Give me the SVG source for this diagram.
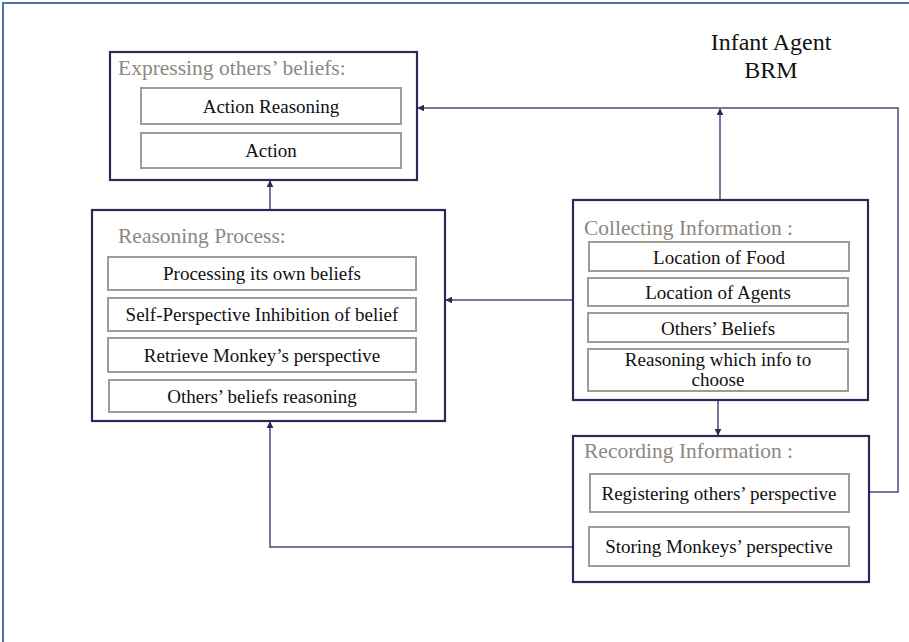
<svg xmlns="http://www.w3.org/2000/svg" width="909" height="642" viewBox="0 0 909 642">
<style>
.frame{fill:#fff;stroke:#4f72ad;stroke-width:2}
.box{fill:#fff;stroke:#2a2a5a;stroke-width:2.2}
.item{fill:#fff;stroke:#a09b96;stroke-width:2}
text{font-family:'Liberation Serif','Times New Roman','DejaVu Serif',serif}
.ttl{font-size:21.5px;fill:#8c8782}
.txt{font-size:19px;fill:#111;text-anchor:middle}
.big{font-size:24px;fill:#111;text-anchor:middle}
.con{fill:none;stroke:#4a4a7c;stroke-width:1.5}
</style>
<defs>
<marker id="ah" viewBox="0 0 10 10" refX="9" refY="5" markerWidth="7" markerHeight="7" orient="auto" markerUnits="userSpaceOnUse">
<path d="M0,0 L10,5 L0,10 z" fill="#2a2a5a"/>
</marker>
</defs>
<rect class="frame" x="3" y="3" width="912" height="650"/>
<g id="title">
<text class="big" x="771" y="50">Infant Agent</text>
<text class="big" x="771" y="78">BRM</text>
</g>
<g id="connectors">
<path class="con" d="M270,210 V181" marker-end="url(#ah)"/>
<path class="con" d="M573,300 H446" marker-end="url(#ah)"/>
<path class="con" d="M720,200 V109" marker-end="url(#ah)"/>
<path class="con" d="M849,492 H898 V108 H418" marker-end="url(#ah)"/>
<path class="con" d="M718,400 V435" marker-end="url(#ah)"/>
<path class="con" d="M589,547 H270 V422" marker-end="url(#ah)"/>
</g>
<g id="expressing">
<rect class="box" x="110" y="52" width="307" height="128"/>
<text class="ttl" x="118" y="75">Expressing others’ beliefs:</text>
<rect class="item" x="141" y="88" width="260" height="36"/>
<text class="txt" x="271" y="113">Action Reasoning</text>
<rect class="item" x="141" y="133" width="260" height="35"/>
<text class="txt" x="271" y="157">Action</text>
</g>
<g id="reasoning">
<rect class="box" x="92" y="210" width="353" height="211"/>
<text class="ttl" x="118" y="243">Reasoning Process:</text>
<rect class="item" x="108" y="257" width="308" height="33"/>
<text class="txt" x="262" y="280">Processing its own beliefs</text>
<rect class="item" x="108" y="298" width="308" height="33"/>
<text class="txt" x="262" y="321">Self-Perspective Inhibition of belief</text>
<rect class="item" x="108" y="338" width="308" height="34"/>
<text class="txt" x="262" y="362">Retrieve Monkey’s perspective</text>
<rect class="item" x="109" y="380" width="307" height="32"/>
<text class="txt" x="262" y="403">Others’ beliefs reasoning</text>
</g>
<g id="collecting">
<rect class="box" x="573" y="200" width="295" height="200"/>
<text class="ttl" x="584" y="235">Collecting Information :</text>
<rect class="item" x="589" y="242" width="260" height="29"/>
<text class="txt" x="719" y="264">Location of Food</text>
<rect class="item" x="588" y="278" width="260" height="28"/>
<text class="txt" x="718" y="299">Location of Agents</text>
<rect class="item" x="588" y="313" width="260" height="29"/>
<text class="txt" x="718" y="335">Others’ Beliefs</text>
<rect class="item" x="588" y="349" width="260" height="42"/>
<text class="txt" x="718" y="366">Reasoning which info to</text>
<text class="txt" x="718" y="386">choose</text>
</g>
<g id="recording">
<rect class="box" x="573" y="436" width="296" height="146"/>
<text class="ttl" x="584" y="458">Recording Information :</text>
<rect class="item" x="590" y="474" width="259" height="38"/>
<text class="txt" x="719" y="500">Registering others’ perspective</text>
<rect class="item" x="589" y="527" width="260" height="39"/>
<text class="txt" x="719" y="553">Storing Monkeys’ perspective</text>
</g>
</svg>
